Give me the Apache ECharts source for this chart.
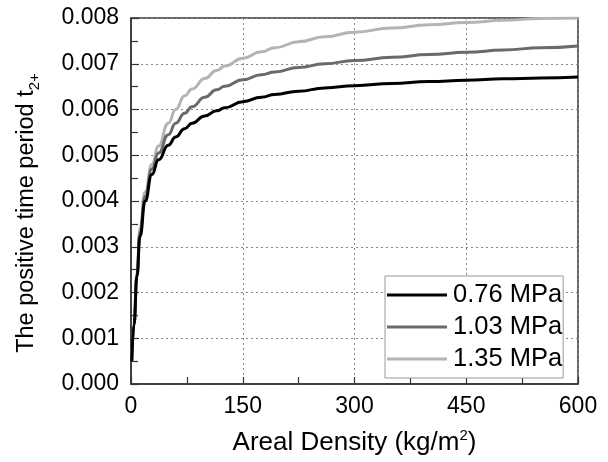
<!DOCTYPE html>
<html>
<head>
<meta charset="utf-8">
<script src="https://cdn.jsdelivr.net/npm/echarts@6/dist/echarts.min.js"></script>
<style>
html,body{margin:0;padding:0;background:#fff;}
#chart{width:608px;height:462px;}
</style>
</head>
<body>
<div id="chart"></div>
<script>
var density = [1, 4, 8, 12, 19, 28, 37, 50, 60, 72, 82, 99, 115, 126, 150, 175, 193, 225, 260, 300, 350, 400, 450, 500, 550, 600];
var p076 = [0.0005, 0.0013, 0.00235, 0.00322, 0.0040, 0.00458, 0.0049, 0.00522, 0.0054, 0.00558, 0.0057, 0.00586, 0.00597, 0.00604, 0.00617, 0.00627, 0.00633, 0.0064, 0.00647, 0.00652, 0.00657, 0.00661, 0.00664, 0.00667, 0.00669, 0.00671];
var p103 = [0.0005, 0.0013, 0.0024, 0.0033, 0.0041, 0.0047, 0.00505, 0.00545, 0.0057, 0.00592, 0.00606, 0.00627, 0.00643, 0.00651, 0.00665, 0.00676, 0.00682, 0.00692, 0.007, 0.00707, 0.00714, 0.0072, 0.00725, 0.0073, 0.00735, 0.00739];
var p135 = [0.0005, 0.0013, 0.0024, 0.0034, 0.0042, 0.0048, 0.0052, 0.0057, 0.006, 0.0063, 0.00645, 0.00668, 0.00685, 0.00695, 0.00712, 0.00726, 0.00735, 0.00748, 0.00759, 0.00769, 0.00778, 0.00785, 0.0079, 0.00795, 0.00799, 0.008];
var seriesNames = ['0.76 MPa', '1.03 MPa', '1.35 MPa'];
var xTitle = 'Areal Density (kg/m';
var yTitle = 'The positive time period t';

function pairs(ys) { return density.map(function (x, i) { return [x, ys[i]]; }); }

var FONT = '"Liberation Sans", Arial, sans-serif';
var chart = echarts.init(document.getElementById('chart'), null, {renderer: 'canvas'});
var colors = ['#000000', '#6a6a6a', '#b4b4b4'];
var allData = [p076, p103, p135];

chart.setOption({
  animation: false,
  backgroundColor: '#ffffff',
  grid: {left: 131, right: 30, top: 18, bottom: 78, show: true, borderColor: '#333', borderWidth: 1.5, backgroundColor: 'transparent'},
  legend: {
    orient: 'vertical', left: 385, top: 276, width: 180,
    padding: [6, 1, 6, 2], itemGap: 6,
    itemWidth: 60, itemHeight: 3, icon: 'rect',
    backgroundColor: '#fff', borderColor: '#999', borderWidth: 1,
    textStyle: {fontFamily: FONT, fontSize: 25.5, color: '#000', padding: [0, 0, 0, 1]},
    data: seriesNames
  },
  xAxis: {
    type: 'value', min: 0, max: 600, interval: 150,
    name: '{a|' + xTitle + '}{sup|2}{a|)}', nameLocation: 'middle', nameGap: 44,
    nameTextStyle: {rich: {a: {fontFamily: FONT, fontSize: 26, color: '#000', lineHeight: 30}, sup: {fontFamily: FONT, fontSize: 15, color: '#000', verticalAlign: 'top', lineHeight: 16}}},
    axisLine: {show: true, lineStyle: {color: '#333', width: 1.5}},
    axisTick: {show: true, inside: true, length: 7, lineStyle: {color: '#333', width: 1.2}},
    minorTick: {show: true, splitNumber: 2, length: 7, lineStyle: {color: '#333', width: 1.2}},
    axisLabel: {fontFamily: FONT, fontSize: 23, color: '#000', margin: 11},
    splitLine: {show: true, lineStyle: {color: '#888', width: 1, type: [2, 3]}}
  },
  yAxis: {
    type: 'value', min: 0, max: 0.008, interval: 0.001,
    name: '{a|' + yTitle + '}{sub|2+}', nameLocation: 'middle', nameGap: 89, nameRotate: 90,
    nameTextStyle: {padding: [0, 24, 0, 0], rich: {a: {fontFamily: FONT, fontSize: 23.5, color: '#000', lineHeight: 30}, sub: {fontFamily: FONT, fontSize: 15, color: '#000', verticalAlign: 'bottom', lineHeight: 16}}},
    axisLine: {show: true, lineStyle: {color: '#333', width: 1.5}},
    axisTick: {show: true, inside: true, length: 8, lineStyle: {color: '#333', width: 1.2}},
    minorTick: {show: true, splitNumber: 2, length: 7, lineStyle: {color: '#333', width: 1.2}},
    axisLabel: {fontFamily: FONT, fontSize: 23, color: '#000', margin: 12, formatter: function (v) { return v.toFixed(3); }},
    splitLine: {show: true, lineStyle: {color: '#888', width: 1, type: [2, 3]}}
  },
  series: seriesNames.map(function (n, i) {
    return {
      name: n, type: 'line', data: pairs(allData[i]),
      showSymbol: false, smooth: 0.5, smoothMonotone: 'x',
      color: colors[i],
      lineStyle: {color: colors[i], width: 3},
      z: 3 - i
    };
  })
});
</script>
</body>
</html>
